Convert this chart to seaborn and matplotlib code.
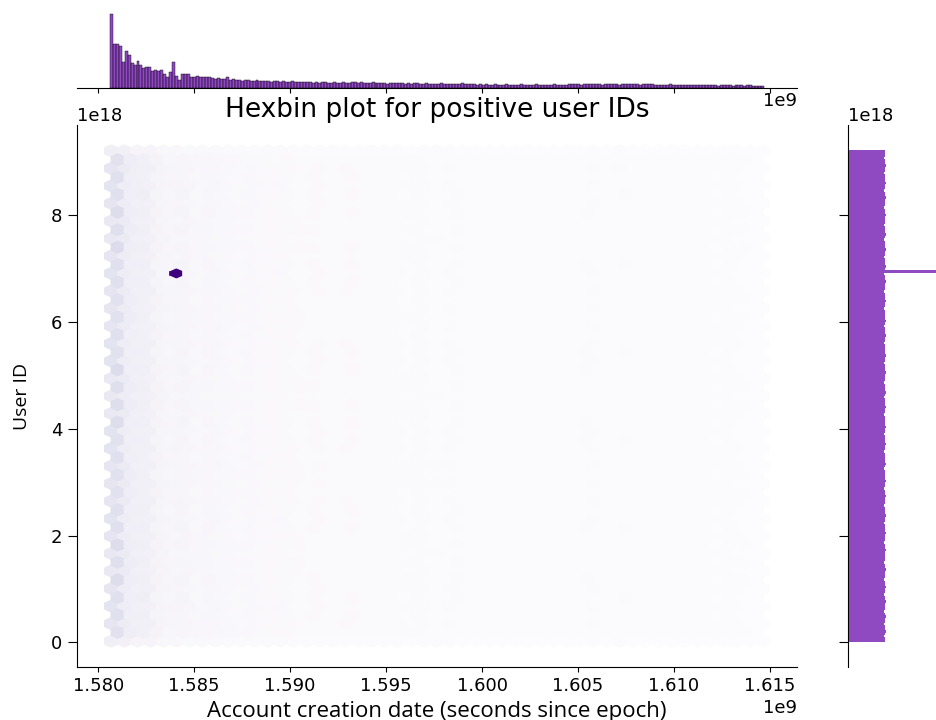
import numpy as np
import pandas as pd
import matplotlib
matplotlib.use("Agg")
import matplotlib.pyplot as plt
import seaborn as sns

# ---------------- data ----------------
x_start, x_end = 1.5806e9, 1.6147e9          # account creation date range (s)
y_start, y_end = 0.0, 9.2233720e18            # user id range

# marginal counts along x (relative heights of the 220 top-histogram bars)
x_counts = [
    73, 43, 43, 41, 26, 36, 32, 25, 23, 27, 23, 20, 21, 21, 17, 18, 17, 18, 14, 11,
    16, 10, 12, 8, 14, 14, 14, 11, 11, 12, 11, 11, 11, 11,
    10, 9, 10, 9, 9, 11, 8, 9, 8, 8, 7, 8, 8, 7, 7, 8, 7, 7, 7, 7,
    6, 7, 7, 6, 7, 6, 6, 7, 6, 6, 6, 6, 6, 6,
    5, 6, 5, 6, 6, 5, 5, 6, 5, 5, 6, 5, 5,
    6, 6, 5, 6,
    5, 5, 5, 6, 5, 5, 5, 5, 4, 5, 5, 5, 5,
    5, 4, 5, 4, 5, 5, 4, 4, 5, 4,
    4, 4, 4, 5, 4, 4, 4, 4, 4, 4, 5, 4, 4, 4,
    4, 3, 4,
    3, 4, 3, 3, 4, 3, 3, 3, 4, 3, 3, 3, 3, 4, 3, 3, 3, 3, 4, 3, 3, 3, 3, 3, 4, 3, 3, 3, 3,
    4, 4, 4, 4, 3, 4, 4, 4, 4, 4, 4, 3, 4, 4, 4, 4, 4, 3, 4, 4, 4, 4, 4, 4, 3, 4, 4, 4, 4, 3,
    3, 3, 3, 3, 4, 3, 3, 3, 3, 3, 3, 3, 3, 3, 3, 3,
    3, 3, 3, 3, 2, 3, 3, 3, 3, 2, 3, 3, 3, 2, 3, 3,
    2, 2, 2, 2,
]

# marginal counts along y (relative lengths of the 200 right-histogram bars, bottom to top)
y_counts = [
    37, 37, 36, 37, 38, 37, 37, 36, 37, 37, 38, 37, 36, 37, 37, 37, 38, 37, 37, 36,
    37, 37, 38, 37, 37, 36, 37, 37, 37, 38, 37, 37, 36, 37, 37, 37, 37, 38, 37, 37,
    36, 37, 37, 37, 38, 37, 37, 37, 36, 37, 37, 38, 37, 37, 37, 36, 37, 37, 37, 38,
    37, 37, 36, 37, 37, 38, 37, 37, 37, 37, 36, 37, 38, 37, 37, 37, 37, 36, 37, 37,
    38, 37, 37, 37, 36, 37, 37, 38, 37, 37, 37, 37, 36, 37, 37, 38, 37, 37, 37, 36,
    37, 38, 37, 37, 37, 36, 37, 37, 37, 38, 37, 37, 37, 36, 37, 37, 38, 37, 37, 37,
    37, 36, 37, 37, 38, 37, 37, 37, 36, 37, 38, 37, 37, 37, 37, 36, 37, 37, 38, 37,
    37, 37, 36, 37, 37, 37, 38, 37, 37, 36, 37, 37, 38, 37, 37, 37, 36, 37, 37, 38,
    37, 37, 37, 36, 37, 38, 37, 37, 37, 36, 37, 37, 37, 38, 37, 37, 36, 37, 37, 37,
    38, 37, 37, 36, 37, 37, 38, 37, 37, 37, 36, 37, 37, 38, 37, 37, 36, 37, 37, 37,
]

# one heavily repeated (date, id) pair
spike_x = [1.58395e9]
spike_y = [6.93e18]
spike_w = [16]

title = "Hexbin plot for positive user IDs"
xlabel = "Account creation date (seconds since epoch)"
ylabel = "User ID"
bar_color = "#6a0dad"
hex_cmap = "Purples"

# ---------------- build table ----------------
x_edges = np.linspace(x_start, x_end, len(x_counts) + 1)
y_edges = np.linspace(y_start, y_end, len(y_counts) + 1)
xc = (x_edges[:-1] + x_edges[1:]) / 2
yc = (y_edges[:-1] + y_edges[1:]) / 2
X, Y = np.meshgrid(xc, yc, indexing="ij")
yw = np.asarray(y_counts, float) / np.sum(y_counts)
W = np.outer(np.asarray(x_counts, float), yw)

df = pd.DataFrame({
    "x": np.concatenate([X.ravel(), spike_x]),
    "y": np.concatenate([Y.ravel(), spike_y]),
    "w": np.concatenate([W.ravel(), spike_w]),
})

plt.rcParams["xtick.labelsize"] = 13
plt.rcParams["ytick.labelsize"] = 13
plt.rcParams["xtick.major.size"] = 3.8
plt.rcParams["ytick.major.size"] = 6.2
plt.rcParams["ytick.major.pad"] = 4.5

g = sns.JointGrid(data=df, x="x", y="y", height=7.2, ratio=5)
g.plot_joint(plt.hexbin, C=df["w"], reduce_C_function=np.sum,
             gridsize=50, cmap=hex_cmap)
sns.histplot(data=df, x="x", weights="w", bins=len(x_counts),
             binrange=(x_start, x_end), ax=g.ax_marg_x,
             color=bar_color, legend=False, linewidth=0.3)
sns.histplot(data=df, y="y", weights="w", bins=len(y_counts),
             binrange=(y_start, y_end), ax=g.ax_marg_y,
             color=bar_color, legend=False, linewidth=0)

fig = g.figure
fig.set_size_inches(9.36, 7.2)
g.ax_joint.set_position([77 / 936, 53 / 720, 720 / 936, 542 / 720])
g.ax_marg_x.set_position([77 / 936, 632 / 720, 720 / 936, 78 / 720])
g.ax_marg_y.set_position([848 / 936, 53 / 720, 119 / 936, 542 / 720])

g.ax_joint.set_xlabel(xlabel, fontsize=16, family=["Open Sans", "DejaVu Sans"])
g.ax_joint.set_ylabel(ylabel, fontsize=14, family=["Open Sans", "DejaVu Sans"],
                      labelpad=14)
g.ax_joint.set_title(title, fontsize=19)
g.ax_joint.xaxis.get_offset_text().set_fontsize(13)
g.ax_joint.yaxis.get_offset_text().set_fontsize(13)
g.ax_marg_x.xaxis.get_offset_text().set_fontsize(13)
g.ax_marg_y.yaxis.get_offset_text().set_fontsize(13)
g.ax_marg_x.set_xlabel("")
g.ax_marg_y.set_ylabel("")

fig.savefig("out.png", dpi=100)
